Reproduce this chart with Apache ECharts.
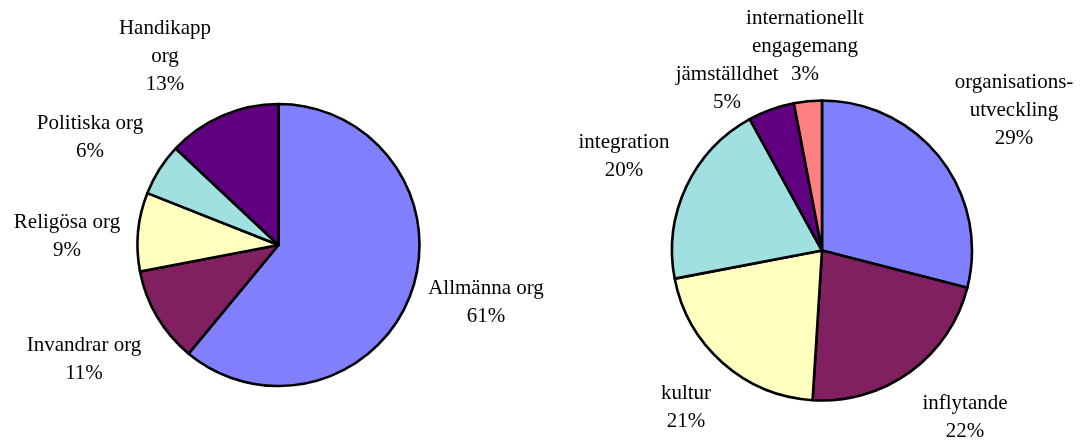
<!DOCTYPE html>
<html>
<head>
<meta charset="utf-8">
<script src="https://cdn.jsdelivr.net/npm/echarts@6/dist/echarts.min.js"></script>
<style>
  html, body { margin: 0; padding: 0; background: #fff; }
  #chart { width: 1088px; height: 441px; }
</style>
</head>
<body>
<div id="chart"></div>
<script>
// vänster diagram: typ av organisation
const leftNames = ['Allmänna org', 'Invandrar org', 'Religösa org', 'Politiska org', 'Handikapp\norg'];
const leftValues = [61, 11, 9, 6, 13];

// höger diagram: inriktning
const rightNames = ['organisations-\nutveckling', 'inflytande', 'kultur', 'integration', 'jämställdhet', 'internationellt\nengagemang'];
const rightValues = [29, 22, 21, 20, 5, 3];

const colors = ['#8080FF', '#802060', '#FFFFC0', '#A0E0E0', '#600080', '#FF8080'];

// etikettplacering (mitten av textblocket)
const leftLabelPos = [[486, 302], [84, 359], [67, 236], [90, 137], [165, 56]];
const rightLabelPos = [[1014, 110], [965, 417], [686, 407], [624, 156], [727, 88], [805, 46]];

const chart = echarts.init(document.getElementById('chart'));

function makePie(names, values, center, radius, pos) {
  return {
    type: 'pie',
    center: center,
    radius: radius,
    startAngle: 90,
    clockwise: true,
    avoidLabelOverlap: false,
    silent: true,
    data: names.map((n, i) => ({
      name: n,
      value: values[i],
      itemStyle: { color: colors[i] }
    })),
    itemStyle: { borderColor: '#000', borderWidth: 2.6 },
    label: {
      show: true,
      position: 'outside',
      formatter: p => p.name + '\n' + p.value + '%',
      fontFamily: 'Liberation Serif',
      fontSize: 21,
      lineHeight: 28,
      color: '#000',
      align: 'center'
    },
    labelLine: { show: false },
    labelLayout: params => ({
      x: pos[params.dataIndex][0],
      y: pos[params.dataIndex][1],
      align: 'center',
      verticalAlign: 'middle'
    }),
    emphasis: { disabled: true }
  };
}

chart.setOption({
  animation: false,
  backgroundColor: '#fff',
  series: [
    makePie(leftNames, leftValues, [278.5, 245], 141, leftLabelPos),
    makePie(rightNames, rightValues, [822, 250.5], 150, rightLabelPos)
  ]
});
</script>
</body>
</html>
